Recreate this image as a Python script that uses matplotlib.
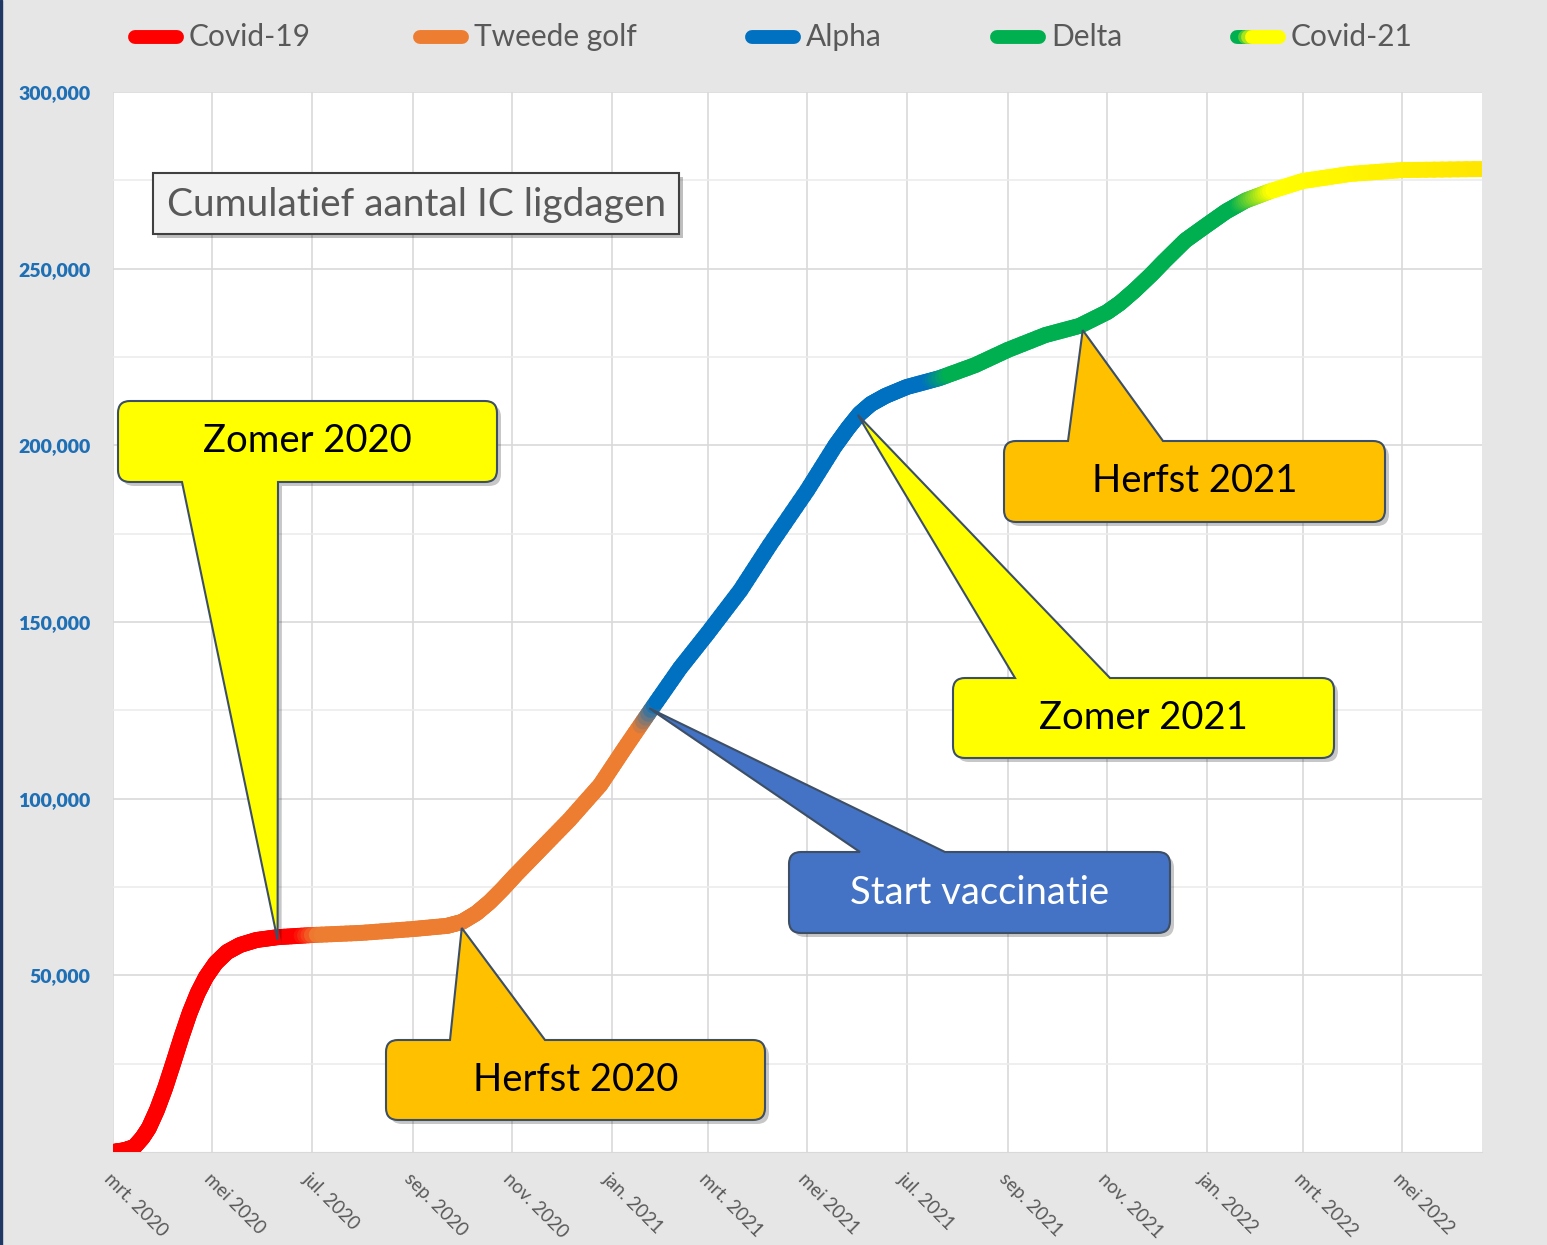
import matplotlib
matplotlib.use("Agg")
import matplotlib.pyplot as plt
import matplotlib.dates as mdates
import numpy as np
from matplotlib.collections import LineCollection
from matplotlib.path import Path
from matplotlib.patches import PathPatch, Rectangle
from matplotlib.colors import to_rgb
from matplotlib.ticker import FixedLocator

plt.rcParams['font.family'] = ['Lato', 'DejaVu Sans']

# ---- data: cumulative IC bed-days ----
dates = np.array([
    '2020-03-01', '2020-03-08', '2020-03-14', '2020-03-19', '2020-03-23', '2020-03-28',
    '2020-04-02', '2020-04-07', '2020-04-12', '2020-04-17', '2020-04-22', '2020-04-27',
    '2020-05-03', '2020-05-10', '2020-05-18', '2020-05-28', '2020-06-10', '2020-07-01',
    '2020-07-31', '2020-09-01', '2020-09-22', '2020-10-01', '2020-10-10', '2020-10-18',
    '2020-10-26', '2020-11-03', '2020-11-18', '2020-12-06', '2020-12-25', '2021-01-09',
    '2021-01-25', '2021-02-12', '2021-03-01', '2021-03-21', '2021-04-08', '2021-05-01',
    '2021-05-18', '2021-05-26', '2021-06-02', '2021-06-09', '2021-06-18', '2021-07-01',
    '2021-07-21', '2021-08-12', '2021-09-01', '2021-09-24', '2021-10-15', '2021-11-01',
    '2021-11-09', '2021-11-18', '2021-11-28', '2021-12-06', '2021-12-19', '2022-01-01',
    '2022-01-13', '2022-01-25', '2022-02-09', '2022-03-01', '2022-03-30', '2022-05-01',
    '2022-06-19'], dtype='datetime64[D]')
values = [
    0, 500, 1400, 4000, 6800, 11900,
    18100, 25200, 32500, 39300, 45000, 49500,
    53500, 56600, 58600, 60000, 60800, 61400,
    62000, 63100, 64000, 65100, 67600, 70700,
    74400, 78400, 85500, 94000, 103900, 114300,
    125100, 137000, 146900, 159000, 171800, 187300,
    199800, 204900, 208900, 211700, 214000, 216500,
    219000, 222700, 227000, 231200, 233800, 237700,
    240300, 243900, 248300, 252100, 258000, 262300,
    266200, 269300, 271900, 274800, 276800, 277900,
    278200]

# colour phases along the curve
phase_names = ['Covid-19', 'Tweede golf', 'Alpha', 'Delta', 'Covid-21']
phase_colors = ['#ff0000', '#ed7d31', '#0070c0', '#00b050', '#ffff00']
stop_dates = np.array(['2020-03-01', '2020-06-24', '2020-07-06', '2021-01-18', '2021-01-29',
                       '2021-07-15', '2021-07-28', '2022-01-20', '2022-02-11', '2022-06-19'],
                      dtype='datetime64[D]')
stop_colors = ['#ff0000', '#ff0000', '#ed7d31', '#ed7d31', '#0070c0',
               '#0070c0', '#00b050', '#00b050', '#ffff00', '#ffe600']

tick_dates = np.array(['2020-03-01', '2020-05-01', '2020-07-01', '2020-09-01', '2020-11-01',
                       '2021-01-01', '2021-03-01', '2021-05-01', '2021-07-01', '2021-09-01',
                       '2021-11-01', '2022-01-01', '2022-03-01', '2022-05-01'], dtype='datetime64[D]')
tick_labels = ['mrt. 2020', 'mei 2020', 'jul. 2020', 'sep. 2020', 'nov. 2020', 'jan. 2021',
               'mrt. 2021', 'mei 2021', 'jul. 2021', 'sep. 2021', 'nov. 2021', 'jan. 2022',
               'mrt. 2022', 'mei 2022']
y_ticks = [50000, 100000, 150000, 200000, 250000, 300000]

# callouts
note_texts = ['Zomer 2020', 'Herfst 2020', 'Start vaccinatie', 'Zomer 2021', 'Herfst 2021']
note_dates = np.array(['2020-06-10', '2020-10-01', '2021-01-24', '2021-06-01', '2021-10-17'],
                      dtype='datetime64[D]')
note_values = [60000, 63400, 125600, 208600, 232600]
note_fills = ['#ffff00', '#ffc000', '#4472c4', '#ffff00', '#ffc000']
note_text_colors = ['black', 'black', 'white', 'black', 'black']

W, H = 1547, 1245
fig = plt.figure(figsize=(W / 100, H / 100), dpi=100, facecolor='#e6e6e6')
ax = fig.add_axes([113 / W, 1 - 1152 / H, (1482 - 113) / W, (1152 - 92) / H])
ax.set_facecolor('white')

x = mdates.date2num(dates)
y = np.array(values, dtype=float)
sx = mdates.date2num(stop_dates)
srgb = np.array([to_rgb(c) for c in stop_colors])

# split each segment in small pieces so the colour can fade between phases
segs, cols = [], []
n_sub = 10
for i in range(len(x) - 1):
    for k in range(n_sub):
        t0, t1 = k / n_sub, (k + 1) / n_sub
        xa, xb = x[i] + (x[i + 1] - x[i]) * t0, x[i] + (x[i + 1] - x[i]) * t1
        ya, yb = y[i] + (y[i + 1] - y[i]) * t0, y[i] + (y[i + 1] - y[i]) * t1
        segs.append([(xa, ya), (xb, yb)])
        xm = (xa + xb) / 2
        cols.append([np.interp(xm, sx, srgb[:, c]) for c in range(3)])
lc = LineCollection(segs, colors=cols, linewidths=11.5, capstyle='round', joinstyle='round', zorder=3)
ax.add_collection(lc)

ax.set_xlim(mdates.date2num(np.datetime64('2020-03-01')), mdates.date2num(np.datetime64('2022-06-19')))
ax.set_ylim(0, 300000)
ax.xaxis.set_major_locator(FixedLocator(mdates.date2num(tick_dates)))
ax.set_xticklabels(tick_labels, rotation=-45, ha='left', va='top', rotation_mode='anchor',
                   fontsize=13.5, color='#595959')
ax.yaxis.set_major_locator(FixedLocator(y_ticks))
ax.yaxis.set_minor_locator(FixedLocator(np.arange(25000, 300000, 50000)))
ax.set_yticklabels([f'{v:,}' for v in y_ticks], fontsize=14, color='#1f6fb5', fontweight='heavy')
ax.tick_params(axis='both', which='both', length=0)
ax.tick_params(axis='y', pad=16)
ax.tick_params(axis='x', pad=13)
ax.grid(True, which='major', color='#d9d9d9', linewidth=1.2)
ax.grid(True, which='minor', axis='y', color='#ececec', linewidth=1.2)
ax.set_axisbelow(True)
for side in ['top', 'right', 'left']:
    ax.spines[side].set_visible(False)
ax.spines['bottom'].set_color('#d9d9d9')

# overlay in pixel coordinates for legend, title box and callouts
ov = fig.add_axes([0, 0, 1, 1])
ov.set_xlim(0, W)
ov.set_ylim(H, 0)
ov.axis('off')

ov.add_patch(Rectangle((0, 0), 2, H, color='#1f3864'))

# legend
leg_x = [128, 413, 745, 990, 1230]
for name, col, lx in zip(phase_names, phase_colors, leg_x):
    if name == 'Covid-21':
        pts = np.linspace(lx + 7, lx + 49, 12)
        lsegs = [[(pts[j], 37), (pts[j + 1], 37)] for j in range(len(pts) - 1)]
        lcols = []
        for j in range(len(pts) - 1):
            f = np.clip((j - 1) / 3, 0, 1)
            lcols.append(f * np.array(to_rgb(col)) + (1 - f) * np.array(to_rgb('#00b050')))
        ov.add_collection(LineCollection(lsegs, colors=lcols, linewidths=10, capstyle='round'))
    else:
        ov.plot([lx + 7, lx + 49], [37, 37], color=col, lw=10, solid_capstyle='round')
    ov.text(lx + 61, 37, name, fontsize=21.5, color='#595959', ha='left', va='center')

# title box
ov.add_patch(Rectangle((157, 177), 526, 61, color='black', alpha=0.25, lw=0))
ov.add_patch(Rectangle((153, 173), 526, 61, facecolor='#f2f2f2', edgecolor='#404040', lw=1.5))
ov.text(417, 205, 'Cumulatief aantal IC ligdagen', fontsize=28, color='#595959',
        ha='center', va='center')


def callout_path(x0, y0, x1, y1, side, xa, xb, tip, r=12):
    tx, ty = tip
    verts = [(x0 + r, y0)]
    codes = [Path.MOVETO]
    if side == 'top':
        verts += [(xa, y0), (tx, ty), (xb, y0)]
        codes += [Path.LINETO] * 3
    verts += [(x1 - r, y0), (x1, y0), (x1, y0 + r), (x1, y1 - r), (x1, y1), (x1 - r, y1)]
    codes += [Path.LINETO, Path.CURVE3, Path.CURVE3, Path.LINETO, Path.CURVE3, Path.CURVE3]
    if side == 'bottom':
        verts += [(xb, y1), (tx, ty), (xa, y1)]
        codes += [Path.LINETO] * 3
    verts += [(x0 + r, y1), (x0, y1), (x0, y1 - r), (x0, y0 + r), (x0, y0), (x0 + r, y0)]
    codes += [Path.LINETO, Path.CURVE3, Path.CURVE3, Path.LINETO, Path.CURVE3, Path.CURVE3]
    verts.append((x0 + r, y0))
    codes.append(Path.CLOSEPOLY)
    return Path(verts, codes)


# box corners and wedge base in pixels
boxes = [(118, 401, 497, 482, 'bottom', 182, 278),
         (386, 1040, 765, 1120, 'top', 450, 545),
         (789, 852, 1170, 933, 'top', 860, 945),
         (953, 678, 1334, 758, 'top', 1015, 1110),
         (1004, 441, 1385, 522, 'top', 1068, 1163)]

to_ov = ov.transData.inverted()
for txt, d, v, fc, tc, b in zip(note_texts, note_dates, note_values, note_fills, note_text_colors, boxes):
    tip = to_ov.transform(ax.transData.transform((mdates.date2num(d), v)))
    x0, y0, x1, y1, side, xa, xb = b
    shadow = callout_path(x0 + 4, y0 + 4, x1 + 4, y1 + 4, side, xa + 4, xb + 4, (tip[0] + 4, tip[1] + 4))
    ov.add_patch(PathPatch(shadow, facecolor='black', alpha=0.22, lw=0))
    ov.add_patch(PathPatch(callout_path(x0, y0, x1, y1, side, xa, xb, tip),
                           facecolor=fc, edgecolor='#3d4f66', lw=1.5))
    ov.text((x0 + x1) / 2, (y0 + y1) / 2, txt, fontsize=27.5, color=tc, ha='center', va='center')

fig.savefig('out.png', dpi=100, facecolor=fig.get_facecolor())
